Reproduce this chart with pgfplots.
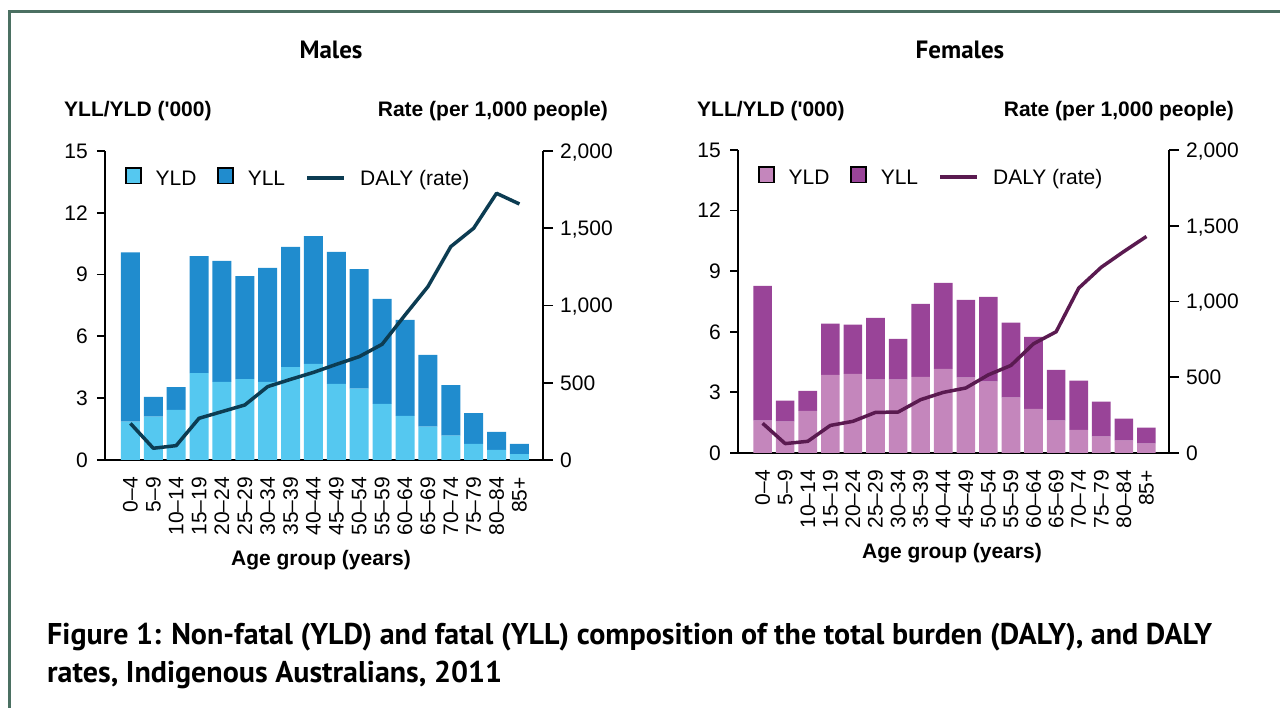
\documentclass[border=0pt]{standalone}
\usepackage{fontspec}
\setmainfont{Liberation Sans}[Ligatures=TeXOff]
\newfontfamily\ptsans{PT Sans}
\usepackage{pgfplots}
\pgfplotsset{compat=1.18}
\definecolor{yldm}{HTML}{55C8F0}
\definecolor{yllm}{HTML}{208CCE}
\definecolor{dalym}{HTML}{0C3C52}
\definecolor{yldf}{HTML}{C486BC}
\definecolor{yllf}{HTML}{994498}
\definecolor{dalyf}{HTML}{5A1A50}
\definecolor{frame}{HTML}{4B7062}
\newcommand\fs{\fontsize{21pt}{25pt}\selectfont}

\pgfplotsset{
  base/.style={
    scale only axis, anchor=south west,
    xmin=-1.11, xmax=18.03,
    tick label style={font=\fs},
    /pgf/number format/assume math mode=true,
    tick align=outside,
    axis line style={line width=1.8pt, black},
    major tick style={line width=1.8pt, black},
  },
  leftax/.style={
    base,
    ymin=0, ymax=15, ytick={0,3,...,15},
    axis lines*=left,
    major tick length=8pt,
    xtick={0,...,17},
    xticklabels={0–4,5–9,10–14,15–19,20–24,25–29,30–34,35–39,40–44,45–49,50–54,55–59,60–64,65–69,70–74,75–79,80–84,85+},
    xtick style={draw=none},
    xticklabel style={rotate=90, anchor=east, inner xsep=9pt, inner ysep=0pt},
    yticklabel style={inner sep=0pt, xshift=-9pt},
    ybar stacked,
    legend style={draw=none, fill=none, inner sep=0pt, outer sep=0pt,
      column sep=0pt, row sep=0pt,
      /tikz/every odd column/.append style={column sep=14pt},
      /tikz/every even column/.append style={column sep=20.5pt},
      nodes={inner sep=0pt, text height=15pt, text depth=0pt, font=\fs},
      at={(axis description cs:0,1)}, anchor=west, xshift=20pt, yshift=-25.4pt},
    legend columns=3,
    legend cell align=left,
  },
  rightax/.style={
    base,
    ymin=0, ymax=2000, ytick={0,500,...,2000},
    axis y line*=right, axis x line=none,
    xtick=\empty,
    major tick length=10pt,
    scaled y ticks=false,
    /pgf/number format/1000 sep={,},
    yticklabel style={inner sep=0pt, text depth=0pt, xshift=7pt},
  },
}
\newcommand\barimg[1]{legend image code/.code={%
    \draw[fill=#1, draw=black, line width=1.8pt] (0.9pt,-5.6pt) rectangle (15.8pt,9.6pt);}}
\newcommand\lineimg[1]{legend image code/.code={%
    \draw[#1, line width=3.5pt] (0pt,0pt) -- (37pt,0pt);}}

\begin{document}
\begin{tikzpicture}
\path[use as bounding box] (0,0) rectangle (1280pt,708pt);
\draw[frame, line width=2.6pt] (9.7pt,0pt) -- (9.7pt,696.7pt) -- (1280pt,696.7pt);

% ---------------- Males ----------------
\begin{axis}[leftax, at={(105pt,248pt)}, width=438pt, height=309pt, bar width=19pt]
\addplot[fill=yldm, draw=none, legend image code/.code={%
    \draw[fill=yldm, draw=black, line width=1.8pt] (0.9pt,-5.6pt) rectangle (15.8pt,9.6pt);}] coordinates {
(0,1.86) (1,2.10) (2,2.43) (3,4.22) (4,3.79) (5,3.93) (6,3.79) (7,4.51) (8,4.66)
(9,3.69) (10,3.46) (11,2.72) (12,2.14) (13,1.62) (14,1.18) (15,0.78) (16,0.49) (17,0.29)};
\addlegendentry{YLD}
\addplot[fill=yllm, draw=none, legend image code/.code={%
    \draw[fill=yllm, draw=black, line width=1.8pt] (0.9pt,-5.6pt) rectangle (15.8pt,9.6pt);}] coordinates {
(0,8.22) (1,0.96) (2,1.11) (3,5.68) (4,5.87) (5,5.00) (6,5.53) (7,5.83) (8,6.21)
(9,6.41) (10,5.81) (11,5.10) (12,4.66) (13,3.48) (14,2.46) (15,1.50) (16,0.87) (17,0.49)};
\addlegendentry{YLL}
\addlegendimage{legend image code/.code={%
    \draw[dalym, line width=3.5pt] (0pt,0pt) -- (37pt,0pt);}}
\addlegendentry{DALY (rate)}
\end{axis}
\begin{axis}[rightax, at={(105pt,248pt)}, width=438pt, height=309pt]
\addplot[dalym, line width=3.5pt, line join=round] coordinates {
(0,237) (1,76) (2,93) (3,270) (4,313) (5,356) (6,475) (7,522) (8,567)
(9,619) (10,669) (11,749) (12,938) (13,1122) (14,1381) (15,1500) (16,1726) (17,1657)};
\end{axis}

% ---------------- Females ----------------
\begin{axis}[leftax, at={(738pt,255pt)}, width=431pt, height=303pt, bar width=18.6pt,
  xmin=-1.09, xmax=18.0]
\addplot[fill=yldf, draw=none, legend image code/.code={%
    \draw[fill=yldf, draw=black, line width=1.8pt] (0.9pt,-5.6pt) rectangle (15.8pt,9.6pt);}] coordinates {
(0,1.60) (1,1.55) (2,2.09) (3,3.87) (4,3.92) (5,3.63) (6,3.63) (7,3.77) (8,4.17)
(9,3.73) (10,3.53) (11,2.74) (12,2.19) (13,1.60) (14,1.15) (15,0.81) (16,0.61) (17,0.46)};
\addlegendentry{YLD}
\addplot[fill=yllf, draw=none, legend image code/.code={%
    \draw[fill=yllf, draw=black, line width=1.8pt] (0.9pt,-5.6pt) rectangle (15.8pt,9.6pt);}] coordinates {
(0,6.67) (1,1.04) (2,0.99) (3,2.53) (4,2.43) (5,3.06) (6,2.02) (7,3.61) (8,4.25)
(9,3.85) (10,4.20) (11,3.71) (12,3.56) (13,2.52) (14,2.43) (15,1.73) (16,1.09) (17,0.79)};
\addlegendentry{YLL}
\addlegendimage{legend image code/.code={%
    \draw[dalyf, line width=3.5pt] (0pt,0pt) -- (37pt,0pt);}}
\addlegendentry{DALY (rate)}
\end{axis}
\begin{axis}[rightax, at={(738pt,255pt)}, width=431pt, height=303pt, xmin=-1.09, xmax=18.0]
\addplot[dalyf, line width=3.5pt, line join=round] coordinates {
(0,196) (1,62) (2,77) (3,182) (4,209) (5,268) (6,270) (7,352) (8,400)
(9,429) (10,516) (11,578) (12,721) (13,800) (14,1088) (15,1226) (16,1330) (17,1429)};
\end{axis}

% ---------------- Texts ----------------
\node[font={\ptsans\bfseries\fontsize{25pt}{29pt}\selectfont}] at (331pt,658pt) {Males};
\node[font={\ptsans\bfseries\fontsize{25pt}{29pt}\selectfont}] at (960pt,658pt) {Females};
\node[font={\bfseries\fs}, anchor=west, inner sep=0pt] at (64pt,597pt) {YLL/YLD ('000)};
\node[font={\bfseries\fs}, anchor=east, inner sep=0pt] at (608pt,597pt) {Rate (per 1,000 people)};
\node[font={\bfseries\fs}, anchor=west, inner sep=0pt] at (697pt,597pt) {YLL/YLD ('000)};
\node[font={\bfseries\fs}, anchor=east, inner sep=0pt] at (1234pt,597pt) {Rate (per 1,000 people)};
\node[font={\bfseries\fs}] at (321pt,148pt) {Age group (years)};
\node[font={\bfseries\fs}] at (952pt,155pt) {Age group (years)};
\node[font={\ptsans\bfseries\fontsize{30pt}{35pt}\selectfont}, anchor=base west, inner sep=0pt] at (47pt,63pt)
  {Figure 1: Non-fatal (YLD) and fatal (YLL) composition of the total burden (DALY), and DALY};
\node[font={\ptsans\bfseries\fontsize{30pt}{35pt}\selectfont}, anchor=base west, inner sep=0pt] at (47pt,25pt)
  {rates, Indigenous Australians, 2011};
\end{tikzpicture}
\end{document}
